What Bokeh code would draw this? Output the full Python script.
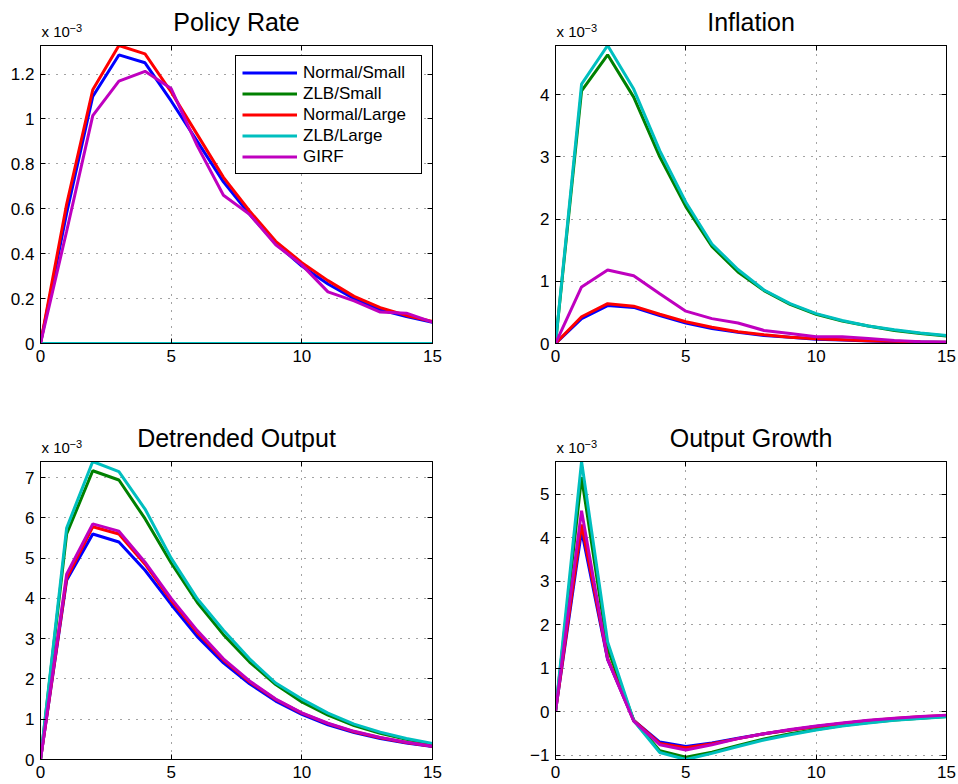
from bokeh.plotting import figure
from bokeh.layouts import row, column
from bokeh.models import (Range1d, FixedTicker, CustomJSTickFormatter, Label,
                          LinearAxis, Legend, LegendItem)
from bokeh.embed import file_html
from bokeh.resources import INLINE

# ---------------- data (values in units of 10^-3) ----------------
horizon = [0, 1, 2, 3, 4, 5, 6, 7, 8, 9, 10, 11, 12, 13, 14, 15]
x_ticks = [0, 5, 10, 15]
series_names = ["Normal/Small", "ZLB/Small", "Normal/Large", "ZLB/Large", "GIRF"]
series_colors = ["#0000FF", "#008000", "#FF0000", "#00BFBF", "#BF00BF"]
scale_base = "x 10"
scale_exp = "\u22123"

# Policy Rate
policy_normal_small = [0, 0.58, 1.10, 1.285, 1.25, 1.08, 0.90, 0.72, 0.575, 0.445, 0.345, 0.265, 0.20, 0.15, 0.12, 0.095]
policy_zlb_small = [0, 0, 0, 0, 0, 0, 0, 0, 0, 0, 0, 0, 0, 0, 0, 0]
policy_normal_large = [0, 0.62, 1.13, 1.327, 1.29, 1.12, 0.93, 0.74, 0.59, 0.455, 0.36, 0.28, 0.21, 0.16, 0.125, 0.098]
policy_zlb_large = [0, 0, 0, 0, 0, 0, 0, 0, 0, 0, 0, 0, 0, 0, 0, 0]
policy_girf = [0, 0.50, 1.015, 1.168, 1.212, 1.135, 0.88, 0.66, 0.575, 0.44, 0.35, 0.23, 0.19, 0.14, 0.135, 0.095]
policy_ticks = [0, 0.2, 0.4, 0.6, 0.8, 1.0, 1.2]

# Inflation
infl_normal_small = [0, 0.40, 0.61, 0.58, 0.45, 0.33, 0.24, 0.18, 0.13, 0.10, 0.07, 0.055, 0.04, 0.03, 0.025, 0.02]
infl_zlb_small = [0, 4.06, 4.64, 3.96, 3.00, 2.20, 1.56, 1.15, 0.85, 0.63, 0.47, 0.36, 0.28, 0.21, 0.16, 0.12]
infl_normal_large = [0, 0.43, 0.64, 0.60, 0.47, 0.35, 0.26, 0.19, 0.14, 0.10, 0.075, 0.06, 0.045, 0.035, 0.025, 0.02]
infl_zlb_large = [0, 4.17, 4.79, 4.09, 3.10, 2.27, 1.60, 1.19, 0.86, 0.64, 0.48, 0.37, 0.28, 0.22, 0.17, 0.13]
infl_girf = [0, 0.91, 1.18, 1.09, 0.80, 0.52, 0.40, 0.33, 0.21, 0.16, 0.11, 0.11, 0.08, 0.05, 0.03, 0.02]
infl_ticks = [0, 1, 2, 3, 4]

# Detrended Output
det_normal_small = [0, 4.45, 5.60, 5.40, 4.70, 3.85, 3.05, 2.40, 1.88, 1.45, 1.12, 0.86, 0.67, 0.52, 0.41, 0.32]
det_zlb_small = [0, 5.60, 7.17, 6.94, 5.98, 4.88, 3.90, 3.10, 2.42, 1.86, 1.43, 1.10, 0.84, 0.65, 0.50, 0.38]
det_normal_large = [0, 4.50, 5.78, 5.60, 4.85, 3.95, 3.15, 2.47, 1.93, 1.49, 1.15, 0.89, 0.69, 0.54, 0.42, 0.33]
det_zlb_large = [0, 5.75, 7.40, 7.15, 6.22, 5.00, 3.99, 3.21, 2.50, 1.90, 1.50, 1.15, 0.88, 0.68, 0.52, 0.40]
det_girf = [0, 4.60, 5.85, 5.67, 4.90, 4.00, 3.20, 2.50, 1.95, 1.50, 1.16, 0.90, 0.70, 0.55, 0.43, 0.33]
det_ticks = [0, 1, 2, 3, 4, 5, 6, 7]

# Output Growth
gr_normal_small = [0, 4.16, 1.20, -0.20, -0.70, -0.80, -0.72, -0.61, -0.51, -0.42, -0.34, -0.27, -0.21, -0.17, -0.13, -0.10]
gr_zlb_small = [0, 5.39, 1.45, -0.20, -0.90, -1.05, -0.93, -0.78, -0.63, -0.51, -0.41, -0.32, -0.25, -0.19, -0.15, -0.11]
gr_normal_large = [0, 4.30, 1.22, -0.20, -0.73, -0.83, -0.74, -0.62, -0.51, -0.42, -0.34, -0.27, -0.21, -0.16, -0.12, -0.09]
gr_zlb_large = [0, 5.75, 1.60, -0.21, -0.94, -1.10, -0.96, -0.80, -0.65, -0.53, -0.42, -0.33, -0.26, -0.20, -0.16, -0.12]
gr_girf = [0, 4.62, 1.20, -0.22, -0.76, -0.88, -0.76, -0.62, -0.51, -0.41, -0.33, -0.26, -0.20, -0.15, -0.11, -0.08]
gr_ticks = [-1, 0, 1, 2, 3, 4, 5]

FONT = "Liberation Sans"
TICK_FMT = CustomJSTickFormatter(code="""
const v = Math.round(tick * 1000) / 1000;
return v < 0 ? '\u2212' + String(-v) : String(v);
""")


def make_header(title, x_range, width, height, bl, br):
    """Strip above a panel holding its title and the 'x 10^-3' scale note.
    Its y range is in pixels measured up from the panel's top border."""
    h = figure(width=width, height=height, output_backend="svg", toolbar_location=None,
               title=None, x_range=x_range, y_range=Range1d(0, height),
               x_axis_type=None, y_axis_type=None,
               min_border_left=bl, min_border_right=br, min_border_top=0, min_border_bottom=0)
    h.outline_line_color = None
    h.background_fill_color = "white"
    h.border_fill_color = "white"
    x_mid = (x_range.start + x_range.end) / 2
    h.add_layout(Label(x=x_mid, y=18.5, text=title, text_align="center",
                       text_baseline="alphabetic", text_font=FONT, text_font_size="25px",
                       text_color="black"))
    h.add_layout(Label(x=x_range.start, x_offset=1, y=9, text=scale_base, text_align="left",
                       text_baseline="alphabetic", text_font=FONT, text_font_size="15px",
                       text_color="black"))
    h.add_layout(Label(x=x_range.start, x_offset=29, y=13, text=scale_exp, text_align="left",
                       text_baseline="alphabetic", text_font=FONT, text_font_size="11px",
                       text_color="black"))
    return h


def make_panel(series, y_ticks, width, height, bl, br, bt, bb, legend=False):
    all_vals = [v for s in series for v in s]
    p = figure(width=width, height=height, output_backend="svg", toolbar_location=None,
               title=None,
               x_range=Range1d(horizon[0], horizon[-1]),
               y_range=Range1d(min(all_vals), max(all_vals)),
               min_border_left=bl, min_border_right=br, min_border_top=bt, min_border_bottom=bb)
    p.background_fill_color = "white"
    p.border_fill_color = "white"
    p.outline_line_color = "black"
    p.outline_line_width = 1
    p.outline_line_alpha = 1

    renderers = []
    for s, c in zip(series, series_colors):
        r = p.line(horizon, s, line_color=c, line_width=3)
        renderers.append(r)

    for ax, ticks in ((p.xaxis[0], x_ticks), (p.yaxis[0], y_ticks)):
        ax.ticker = FixedTicker(ticks=ticks, minor_ticks=[])
        ax.formatter = TICK_FMT
        ax.major_tick_in = 5
        ax.major_tick_out = 0
        ax.minor_tick_in = 0
        ax.minor_tick_out = 0
        ax.axis_line_color = "black"
        ax.major_tick_line_color = "black"
        ax.major_label_text_font = FONT
        ax.major_label_text_font_size = "17px"
        ax.major_label_text_color = "black"
        ax.major_label_standoff = 6

    # ticks on the top and right edges (box on)
    for side, ticks in (("above", x_ticks), ("right", y_ticks)):
        ax = LinearAxis(ticker=FixedTicker(ticks=ticks, minor_ticks=[]),
                        major_tick_in=5, major_tick_out=0, minor_tick_in=0, minor_tick_out=0,
                        major_label_text_font_size="0px", major_label_text_color=None,
                        major_label_standoff=0, axis_line_color="black",
                        major_tick_line_color="black")
        p.add_layout(ax, side)

    p.xgrid.ticker = FixedTicker(ticks=x_ticks)
    p.ygrid.ticker = FixedTicker(ticks=y_ticks)
    for g in (p.xgrid, p.ygrid):
        g.grid_line_color = "#333333"
        g.grid_line_dash = "1 7"
        g.grid_line_width = 1
        g.grid_line_alpha = 0.9

    if legend:
        items = [LegendItem(label=n, renderers=[r]) for n, r in zip(series_names, renderers)]
        lg = Legend(items=items, location="top_right", margin=10, padding=6, spacing=0,
                    glyph_width=55, glyph_height=21, label_height=21, label_width=112,
                    label_standoff=6, label_text_font=FONT, label_text_font_size="17px",
                    label_text_color="black",
                    border_line_color="black", border_line_width=1, border_line_alpha=1,
                    background_fill_color="white", background_fill_alpha=1)
        p.add_layout(lg)
    return p


p1 = make_panel([policy_normal_small, policy_zlb_small, policy_normal_large, policy_zlb_large, policy_girf],
                policy_ticks, 478, 360, 40, 46, 5, 57, legend=True)
p2 = make_panel([infl_normal_small, infl_zlb_small, infl_normal_large, infl_zlb_large, infl_girf],
                infl_ticks, 480, 360, 77, 12, 5, 57)
p3 = make_panel([det_normal_small, det_zlb_small, det_normal_large, det_zlb_large, det_girf],
                det_ticks, 478, 328, 40, 46, 5, 25)
p4 = make_panel([gr_normal_small, gr_zlb_small, gr_normal_large, gr_zlb_large, gr_girf],
                gr_ticks, 480, 328, 77, 12, 5, 25)

h1 = make_header("Policy Rate", p1.x_range, 478, 40, 40, 46)
h2 = make_header("Inflation", p2.x_range, 480, 40, 77, 12)
h3 = make_header("Detrended Output", p3.x_range, 478, 56, 40, 46)
h4 = make_header("Output Growth", p4.x_range, 480, 56, 77, 12)

layout = column(row(h1, h2), row(p1, p2), row(h3, h4), row(p3, p4))
open("out.html", "w").write(file_html(layout, INLINE))
